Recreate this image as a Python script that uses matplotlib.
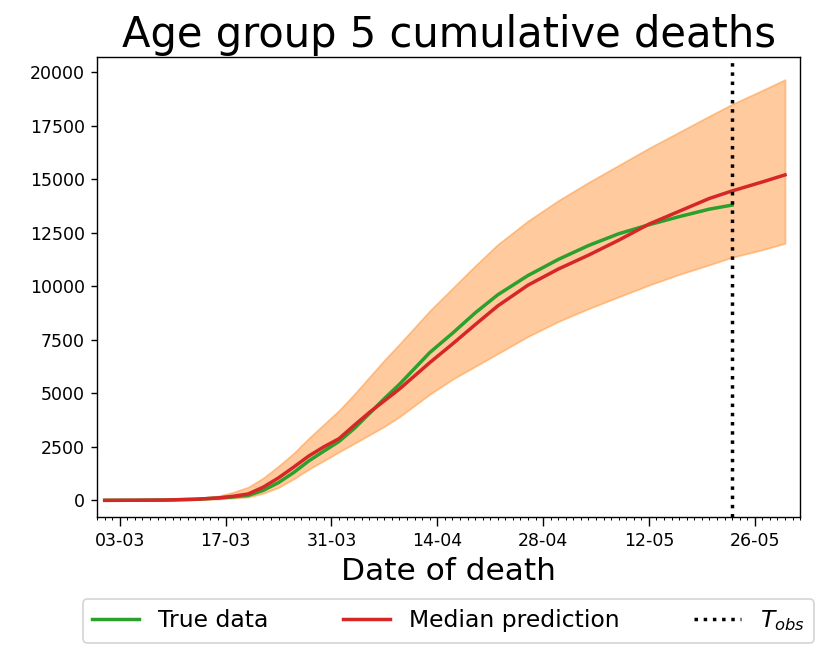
import numpy as np
import matplotlib
matplotlib.use("Agg")
import matplotlib.pyplot as plt
import matplotlib.dates as mdates

# dates (2020)
dates = np.array(['2020-03-01', '2020-03-05', '2020-03-09', '2020-03-13', '2020-03-16',
                  '2020-03-18', '2020-03-20', '2020-03-22', '2020-03-24', '2020-03-26',
                  '2020-03-28', '2020-03-30', '2020-04-01', '2020-04-03', '2020-04-05',
                  '2020-04-07', '2020-04-09', '2020-04-13', '2020-04-16', '2020-04-19',
                  '2020-04-22', '2020-04-26', '2020-04-30', '2020-05-04', '2020-05-08',
                  '2020-05-12', '2020-05-16', '2020-05-20', '2020-05-23', '2020-05-27',
                  '2020-05-30'], dtype='datetime64[D]')

true_data = [0, 5, 15, 50, 110, 160, 230, 470, 830, 1300, 1840, 2300, 2750, 3350, 4050,
             4750, 5420, 6900, 7800, 8750, 9600, 10500, 11250, 11900, 12450, 12870,
             13250, 13600, 13790]
median = [0, 5, 15, 50, 110, 190, 300, 620, 1050, 1550, 2070, 2500, 2880, 3500, 4100,
          4650, 5200, 6430, 7300, 8200, 9080, 10050, 10800, 11450, 12150, 12900, 13500,
          14100, 14450, 14870, 15200]
upper = [0, 10, 30, 90, 200, 380, 620, 1050, 1600, 2200, 2900, 3550, 4200, 4950, 5750,
         6550, 7300, 8850, 9900, 10950, 11950, 13050, 14000, 14850, 15650, 16450, 17200,
         17950, 18500, 19150, 19650]
lower = [0, 3, 8, 25, 60, 100, 150, 330, 600, 1000, 1450, 1850, 2260, 2650, 3050, 3450,
         3900, 4950, 5650, 6250, 6850, 7650, 8350, 8950, 9500, 10050, 10550, 11000,
         11350, 11700, 12000]
t_obs = np.datetime64('2020-05-23')

fig = plt.figure(figsize=(6.64, 5.192), dpi=125)
ax = fig.add_axes([0.117, 0.203, 0.847, 0.709])

ax.fill_between(dates, lower, upper, color='C1', alpha=0.4)
ax.plot(dates[:len(true_data)], true_data, color='C2', lw=2, label='True data')
ax.plot(dates, median, color='C3', lw=2, label='Median prediction')
ax.axvline(t_obs, color='k', ls=':', lw=2, label='$T_{obs}$')

ax.set_xlim(np.datetime64('2020-02-29'), np.datetime64('2020-06-01'))
ax.set_ylim(-790, 20700)
ax.set_xticks([np.datetime64('2020-03-03') + np.timedelta64(14 * i, 'D') for i in range(7)])
ax.xaxis.set_minor_locator(mdates.DayLocator())
ax.xaxis.set_major_formatter(mdates.DateFormatter('%d-%m'))
ax.tick_params(axis='x', which='major', length=5)

ax.set_title('Age group 5 cumulative deaths', fontsize=24)
ax.set_xlabel('Date of death', fontsize=18)
ax.legend(loc='upper center', bbox_to_anchor=(0.5, -0.152), ncol=3, fontsize=13.5,
          columnspacing=3.2)

fig.savefig('out.png', dpi=125)
